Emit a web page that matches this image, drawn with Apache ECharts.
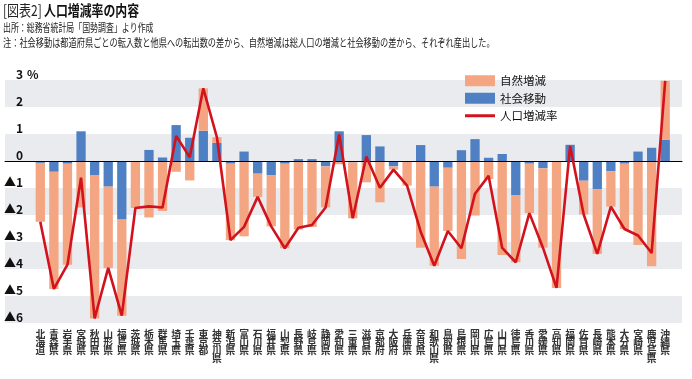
<!DOCTYPE html>
<html>
<head>
<meta charset="utf-8">
<script src="https://cdn.jsdelivr.net/npm/echarts@6/dist/echarts.min.js"></script>
<style>html,body{margin:0;padding:0;background:#fff}#c{width:692px;height:379px}</style>
</head>
<body>
<div id="c"></div>
<script>
const categories = ['北海道','青森県','岩手県','宮城県','秋田県','山形県','福島県','茨城県','栃木県','群馬県','埼玉県','千葉県','東京都','神奈川県','新潟県','富山県','石川県','福井県','山梨県','長野県','岐阜県','静岡県','愛知県','三重県','滋賀県','京都府','大阪府','兵庫県','奈良県','和歌山県','鳥取県','島根県','岡山県','広島県','山口県','徳島県','香川県','愛媛県','高知県','福岡県','佐賀県','長崎県','熊本県','大分県','宮崎県','鹿児島県','沖縄県'];
const social = [-0.07,-0.40,-0.10,1.10,-0.52,-0.95,-2.17,-0.02,0.41,0.13,1.33,0.86,1.12,0.67,-0.10,0.35,-0.47,-0.52,-0.10,0.07,0.07,-0.20,1.10,-0.05,0.96,0.54,-0.20,-0.02,0.59,-0.95,-0.25,0.40,0.81,0.12,0.26,-1.26,-0.10,-0.27,-0.02,0.60,-0.73,-1.04,-0.38,-0.10,0.35,0.49,0.79];
const natural = [-2.18,-4.34,-3.74,-1.72,-5.31,-3.01,-3.56,-1.72,-2.09,-1.85,-0.40,-0.72,1.57,0.21,-2.83,-2.79,-0.86,-1.90,-3.13,-2.54,-2.44,-1.52,-0.12,-2.07,-0.79,-1.53,-0.12,-0.89,-3.21,-2.93,-2.34,-3.63,-2.02,-0.67,-3.48,-2.49,-1.83,-2.94,-4.68,-0.04,-1.25,-2.40,-1.31,-2.42,-3.11,-3.90,2.18];
const total = [-2.25,-4.74,-3.84,-0.62,-5.83,-3.96,-5.73,-1.74,-1.68,-1.72,0.93,0.14,2.69,0.88,-2.93,-2.44,-1.33,-2.42,-3.23,-2.47,-2.37,-1.72,0.98,-2.12,0.17,-0.99,-0.32,-0.91,-2.62,-3.88,-2.59,-3.23,-1.21,-0.55,-3.22,-3.75,-1.93,-3.21,-4.70,0.56,-1.98,-3.44,-1.69,-2.52,-2.76,-3.41,2.97];
const yTicks = {'3':'3','2':'2','1':'1','0':'0','-1':'▲1','-2':'▲2','-3':'▲3','-4':'▲4','-5':'▲5','-6':'▲6'};

const FONT = '"Noto Sans CJK JP", "Noto Sans", sans-serif';
const chart = echarts.init(document.getElementById('c'), null, {renderer:'canvas'});
chart.setOption({
  animation: false,
  textStyle: {fontFamily: FONT},
  graphic: [
    {type:'text', left:3, top:3, scaleX:0.8, style:{text:'[図表2]', fontSize:15, fontWeight:'normal', fill:'#222', fontFamily:FONT}},
    {type:'text', left:44, top:3, scaleX:0.82, style:{text:'人口増減率の内容', fontSize:14.5, fontWeight:'bold', fill:'#111', fontFamily:FONT}},
    {type:'text', left:3, top:22, scaleX:0.72, style:{text:'出所：総務省統計局「国勢調査」より作成', fontSize:11, fill:'#222', fontFamily:FONT}},
    {type:'text', left:3, top:37, scaleX:0.745, style:{text:'注：社会移動は都道府県ごとの転入数と他県への転出数の差から、自然増減は総人口の増減と社会移動の差から、それぞれ産出した。', fontSize:11, fill:'#222', fontFamily:FONT}}
  ],
  legend: {
    orient:'vertical', left:460, top:70, itemWidth:30, itemHeight:11, itemGap:6,
    textStyle:{fontSize:11.5, color:'#111', fontFamily:FONT},
    data:[{name:'自然増減', icon:'rect'},{name:'社会移動', icon:'rect'},
          {name:'人口増減率', icon:'path://M0,0 L30,0 L30,3 L0,3 Z'}]
  },
  grid: [
    {left:5, right:10, top:80, bottom:56},
    {left:33.5, right:20, top:80, bottom:56}
  ],
  xAxis: [
    {gridIndex:0, type:'value', min:0, max:1, z:5,
     axisLine:{show:true, onZero:true, lineStyle:{color:'#000', width:1}},
     axisTick:{show:false}, axisLabel:{show:false}, splitLine:{show:false}},
    {gridIndex:1, type:'category', data:categories,
     axisLine:{show:false, onZero:false}, axisTick:{show:false},
     axisLabel:{interval:0, rotate:0, hideOverlap:false, margin:7, fontSize:9.8, lineHeight:8, fontWeight:'bold', color:'#333',
       align:'center', verticalAlign:'top',
       fontFamily:FONT, formatter: v => v.split('').join('\n')}}
  ],
  yAxis: [
    {gridIndex:0, type:'value', min:-6, max:3, interval:1,
     name:'%', nameLocation:'end', nameGap:6, nameMoveOverlap:false,
     nameTextStyle:{align:'left', verticalAlign:'middle', padding:[0,0,0,22], fontSize:12, fontWeight:'bold', color:'#111', fontFamily:FONT},
     axisLine:{show:false}, axisTick:{show:false}, splitLine:{show:false},
     splitArea:{show:true, areaStyle:{color:['#e9ebee','#ffffff']}},
     axisLabel:{align:'right', verticalAlign:'bottom', margin:-18, fontSize:12, fontWeight:'bold', color:'#111',
       fontFamily:FONT, formatter: v => yTicks[String(v)] }},
    {gridIndex:1, type:'value', min:-6, max:3, interval:1, show:false, splitLine:{show:false}}
  ],
  series: [
    {name:'社会移動', type:'bar', xAxisIndex:1, yAxisIndex:1, stack:'s', data:social, barWidth:9.3,
     itemStyle:{color:'#4f80c4'}},
    {name:'自然増減', type:'bar', xAxisIndex:1, yAxisIndex:1, stack:'s', data:natural, barWidth:9.3,
     itemStyle:{color:'#f4a582'}},
    {name:'人口増減率', type:'line', xAxisIndex:1, yAxisIndex:1, data:total, symbol:'none', z:10,
     lineStyle:{color:'#d2121c', width:2.6}, itemStyle:{color:'#d2121c'}}
  ]
});
</script>
</body>
</html>
